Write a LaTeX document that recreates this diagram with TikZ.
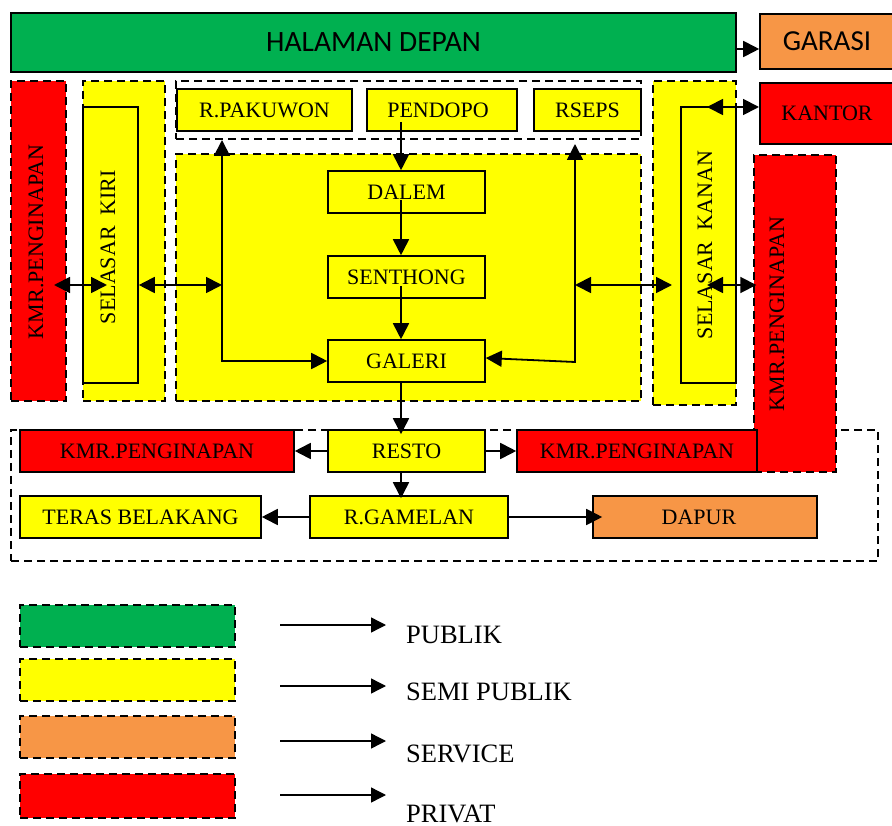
\documentclass[tikz,border=0pt]{standalone}
\usepackage{fontspec}
\setmainfont{Liberation Serif}
\newfontfamily\calib{Carlito}
\usetikzlibrary{arrows.meta}
\definecolor{cgreen}{HTML}{00B050}
\definecolor{cyellow}{HTML}{FFFF00}
\definecolor{corange}{HTML}{F79646}
\definecolor{cred}{HTML}{FF0000}
\tikzset{
  box/.style={draw=black, line width=1.6pt, fill=cyellow, inner sep=0pt, font=\fontsize{22}{24}\selectfont},
  dbox/.style={box, dash pattern=on 8pt off 5pt, line width=1.4pt},
  grp/.style={draw=black, line width=1.4pt, dash pattern=on 8pt off 5pt, inner sep=0pt},
  lbl/.style={inner sep=0pt, font=\fontsize{22}{24}\selectfont},
  arr/.style={line width=1.8pt, -{Triangle[length=16pt,width=16pt]}},
  dbl/.style={line width=1.8pt, {Triangle[length=16pt,width=16pt]}-{Triangle[length=16pt,width=16pt]}},
  larr/.style={line width=1.4pt, -{Triangle[length=15pt,width=15pt]}},
  leg/.style={anchor=base west, inner sep=0pt, font=\fontsize{26.5}{28}\selectfont}
}
\begin{document}
\begin{tikzpicture}[x=1pt,y=-1pt]
\useasboundingbox (0,0) rectangle (892,826);
\clip (0,0) rectangle (892,826);

% top row
\node[box, fill=cgreen, minimum width=725pt, minimum height=59pt, font=\calib\fontsize{29.5}{31}\selectfont] (halaman) at (373.5,42.5) {HALAMAN DEPAN};
\node[box, fill=corange, minimum width=134pt, minimum height=55pt, font=\calib\fontsize{29}{31}\selectfont] (garasi) at (827,41.5) {GARASI};
\node[box, fill=cred, line width=2pt, minimum width=134pt, minimum height=61pt] (kantor) at (827,113.5) {KANTOR};

% left side
\node[dbox, fill=cred, minimum width=55pt, minimum height=320pt] (kmrL) at (38.5,241) {};
\node[lbl, rotate=90] (kmrLt) at (36,242) {KMR.PENGINAPAN};
\node[dbox, minimum width=82pt, minimum height=320pt] (selkiriO) at (124,241) {};
\node[box, minimum width=55pt, minimum height=276pt] (selkiri) at (110.5,245) {};
\node[lbl, rotate=90] (selkirit) at (108,247) {SELASAR\ \ KIRI};

% top group
\node[grp, fill=white, minimum width=465pt, minimum height=58pt] (topgrp) at (408.5,110) {};
\node[box, minimum width=175pt, minimum height=42pt] (pakuwon) at (264.5,110) {R.PAKUWON};
\node[box, minimum width=150pt, minimum height=42pt] (pendopo) at (442,110) {\hspace*{-8pt}PENDOPO};
\node[box, minimum width=107pt, minimum height=42pt] (rseps) at (587.5,110) {RSEPS};

% central
\node[dbox, minimum width=465pt, minimum height=247pt] (central) at (408.5,277.5) {};
\node[box, minimum width=157pt, minimum height=42pt] (dalem) at (406.5,192) {DALEM};
\node[box, minimum width=157pt, minimum height=42pt] (senthong) at (406.5,277) {SENTHONG};
\node[box, minimum width=157pt, minimum height=42pt] (galeri) at (406.5,361) {GALERI};

% right side
\node[dbox, minimum width=83pt, minimum height=324pt] (selkananO) at (694.5,243) {};
\node[box, minimum width=55pt, minimum height=276pt] (selkanan) at (708.5,245) {};
\node[lbl, rotate=90] (selkanant) at (705,245) {SELASAR\ \ KANAN};

% bottom group
\node[grp, minimum width=867pt, minimum height=131pt] (botgrp) at (444.5,495.5) {};
\node[dbox, fill=cred, minimum width=82pt, minimum height=317pt] (kmrR) at (795,313.5) {};
\node[lbl, rotate=90] (kmrRt) at (777,314) {KMR.PENGINAPAN};
\node[box, fill=cred, minimum width=274pt, minimum height=42pt] (kmrB1) at (157,451) {KMR.PENGINAPAN};
\node[box, minimum width=157pt, minimum height=42pt] (resto) at (406.5,451) {RESTO};
\node[box, fill=cred, minimum width=240pt, minimum height=42pt] (kmrB2) at (637,451) {KMR.PENGINAPAN};
\node[box, minimum width=241pt, minimum height=42pt] (teras) at (140.5,517) {TERAS BELAKANG};
\node[box, minimum width=198pt, minimum height=42pt] (gamelan) at (409,517) {R.GAMELAN};
\node[box, fill=corange, minimum width=224pt, minimum height=42pt] (dapur) at (705,517) {\hspace*{-12pt}DAPUR};

% connectors
\coordinate (hg) at (736,49);
\draw[arr] (hg) -- (hg -| garasi.west);

\coordinate (s1) at (401,122);
\coordinate (s2) at (401,200);
\coordinate (s3) at (401,286);
\draw[arr] (s1) -- (s1 |- dalem.north);
\draw[arr] (s2) -- (s2 |- senthong.north);
\draw[arr] (s3) -- (s3 |- galeri.north);
\draw[arr] (s3 |- galeri.south) -- ([yshift=-5pt]s3 |- resto.north);
\draw[arr] (s3 |- resto.south) -- ([yshift=-3pt]s3 |- gamelan.north);

\coordinate (lx) at (222,140);
\draw[dbl] (lx) -- (lx |- galeri.west) -- (galeri.west);
\coordinate (rx) at (575,144);
\coordinate (rc) at (575,362);
\draw[dbl] (rx) -- (rc) -- ([yshift=3pt]galeri.east);

\coordinate (h1) at (54,285);
\coordinate (h2) at (107,285);
\draw[dbl] (h1) -- (h2);
\draw[dbl] (selkiri.east |- h1) -- (lx |- h1);
\coordinate (h3) at (672,285);
\draw[dbl] (rc |- h1) -- (h3);
\coordinate (h4) at (707,285);
\draw[dbl] (h4) -- ([xshift=3pt]kmrR.west |- h4);
\coordinate (k1) at (707,107);
\draw[dbl] (k1) -- (k1 -| kantor.west);

\draw[arr] (resto.west) -- (kmrB1.east);
\draw[arr] (resto.east) -- (kmrB2.west);
\draw[arr] (gamelan.west) -- (teras.east);
\draw[arr] (gamelan.east) -- ([xshift=10pt]dapur.west);

% legend
\node[dbox, fill=cgreen, minimum width=215pt, minimum height=42pt] (lg1) at (127.5,626) {};
\node[dbox, minimum width=215pt, minimum height=42pt] (lg2) at (127.5,680) {};
\node[dbox, fill=corange, minimum width=215pt, minimum height=42pt] (lg3) at (127.5,737) {};
\node[dbox, fill=cred, minimum width=215pt, minimum height=44pt] (lg4) at (127.5,796) {};
\coordinate (la1) at (280,625);
\coordinate (la2) at (280,686);
\coordinate (la3) at (280,741);
\coordinate (la4) at (280,795);
\draw[larr] (la1) -- ++(106,0);
\draw[larr] (la2) -- ++(106,0);
\draw[larr] (la3) -- ++(106,0);
\draw[larr] (la4) -- ++(106,0);
\node[leg] (t1) at (406,643) {PUBLIK};
\node[leg] (t2) at (406,700) {SEMI PUBLIK};
\node[leg] (t3) at (406,762) {SERVICE};
\node[leg] (t4) at (406,822) {PRIVAT};
\end{tikzpicture}
\end{document}
